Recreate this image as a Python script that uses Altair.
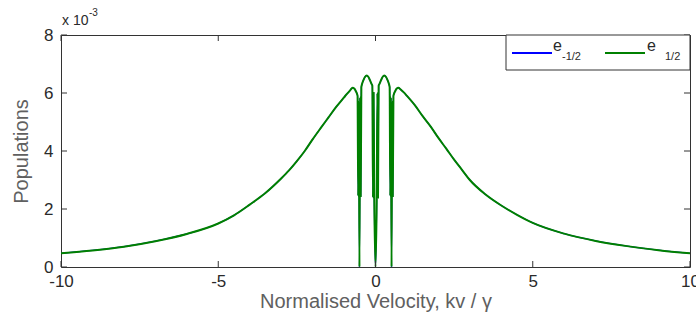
import altair as alt
import pandas as pd

# ---- data (populations in units of 1e-3) ----
velocity = [-10, -9, -8, -7, -6, -5, -4.5, -4, -3.5, -3, -2.75, -2.5, -2.25, -2, -1.75, -1.5, -1.25, -1.0, -0.9, -0.8, -0.73, -0.67, -0.62,
            -0.59, -0.57, -0.55, -0.53, -0.51, -0.49, -0.47, -0.45, -0.43,
            -0.38, -0.33, -0.28, -0.23, -0.18, -0.13,
            -0.1, -0.08, -0.06, -0.04, 0.0, 0.04, 0.06, 0.08, 0.1,
            0.13, 0.18, 0.23, 0.28, 0.33, 0.38,
            0.43, 0.45, 0.47, 0.49, 0.51, 0.53, 0.55, 0.57, 0.59,
            0.62, 0.67, 0.73, 0.8, 0.9, 1.0, 1.25, 1.5, 1.75, 2, 2.25, 2.5, 2.75, 3, 3.5, 4, 4.5, 5, 6, 7, 8, 9, 10]
pop_e_half = [0.47, 0.57, 0.70, 0.89, 1.14, 1.50, 1.78, 2.15, 2.55, 3.05, 3.33, 3.65, 4.00, 4.40, 4.78, 5.15, 5.52, 5.85, 5.98, 6.10, 6.18, 6.15, 6.05,
              5.98, 5.90, 2.45, 5.70, 0.0, 5.85, 2.45, 6.20, 6.30,
              6.45, 6.56, 6.60, 6.56, 6.45, 6.32,
              6.25, 2.40, 6.00, 2.50, 0.0, 2.50, 6.00, 2.40, 6.25,
              6.32, 6.45, 6.56, 6.60, 6.56, 6.45,
              6.30, 6.20, 2.45, 5.85, 0.0, 5.70, 2.45, 5.90, 5.98,
              6.05, 6.15, 6.18, 6.12, 6.02, 5.90, 5.58, 5.20, 4.85, 4.45, 4.08, 3.70, 3.35, 3.00, 2.50, 2.12, 1.80, 1.52, 1.15, 0.90, 0.72, 0.58, 0.47]
pop_e_minus_half = list(pop_e_half)  # the two populations coincide in the reference
series_names = ["e-1/2", "e1/2"]
series_colors = ["#0000ff", "#008000"]
x_ticks = [-10, -5, 0, 5, 10]
y_ticks = [0, 2, 4, 6, 8]
legend_base = ["e", "e"]
legend_sub = ["-1/2", "1/2"]
exponent_base = "x 10"
exponent_sup = "-3"
x_title = "Normalised Velocity, kv / \u03b3"
y_title = "Populations"

W, H = 629, 232
FONT = "Liberation Sans"
FRAME = "#333333"
LABEL = "#2a2a2a"
TITLE = "#606060"

rows = []
for name, vals in zip(series_names, [pop_e_minus_half, pop_e_half]):
    for i, (v, p) in enumerate(zip(velocity, vals)):
        rows.append({"velocity": v, "population": p, "series": name, "idx": i})
df = pd.DataFrame(rows)

xscale = alt.Scale(domain=[-10, 10], nice=False, zero=False)
yscale = alt.Scale(domain=[0, 8], nice=False)
cscale = alt.Scale(domain=series_names, range=series_colors)

x_axis = alt.Axis(values=x_ticks, tickSize=0, labelPadding=6, domain=False, grid=False,
                  labelExpr="'' + datum.value",
                  labelFontSize=17, labelColor=LABEL, labelFont=FONT,
                  titleFontSize=20, titleColor=TITLE, titleFont=FONT,
                  titleFontWeight="normal", titlePadding=2, labelFlush=False)
y_axis = alt.Axis(values=y_ticks, tickSize=0, labelPadding=8, domain=False, grid=False,
                  labelExpr="'' + datum.value",
                  labelFontSize=17, labelColor=LABEL, labelFont=FONT,
                  titleFontSize=20, titleColor=TITLE, titleFont=FONT,
                  titleFontWeight="normal", titlePadding=12, labelFlush=False)
x_enc = alt.X("velocity:Q", scale=xscale, title=x_title, axis=x_axis)
y_enc = alt.Y("population:Q", scale=yscale, title=y_title, axis=y_axis)

layers = []
for name, sw in zip(series_names, [1.2, 2]):
    layers.append(
        alt.Chart(df).transform_filter(alt.datum.series == name)
        .mark_line(strokeWidth=sw, interpolate="monotone", clip=True)
        .encode(x=x_enc, y=y_enc,
                color=alt.Color("series:N", scale=cscale, legend=None),
                order="idx:Q")
    )

xt = pd.DataFrame({"velocity": x_ticks})
yt = pd.DataFrame({"population": y_ticks})
tick_len = 6
layers.append(alt.Chart(xt).mark_rule(color=FRAME, strokeWidth=1).encode(
    x=x_enc, y=alt.value(H), y2=alt.value(H - tick_len)))
layers.append(alt.Chart(xt).mark_rule(color=FRAME, strokeWidth=1).encode(
    x=x_enc, y=alt.value(0), y2=alt.value(tick_len)))
layers.append(alt.Chart(yt).mark_rule(color=FRAME, strokeWidth=1).encode(
    y=y_enc, x=alt.value(0), x2=alt.value(tick_len)))
layers.append(alt.Chart(yt).mark_rule(color=FRAME, strokeWidth=1).encode(
    y=y_enc, x=alt.value(W - tick_len), x2=alt.value(W)))

one = alt.Data(values=[{"k": 1}])

# legend box
layers.append(alt.Chart(one).mark_rect(fill="white", stroke=FRAME, strokeWidth=1).encode(
    x=alt.value(445), x2=alt.value(W), y=alt.value(0), y2=alt.value(35)))
# legend samples
for col, x0 in zip(series_colors, [451, 544]):
    layers.append(alt.Chart(one).mark_rule(color=col, strokeWidth=2).encode(
        x=alt.value(x0), x2=alt.value(x0 + 40), y=alt.value(18)))
# legend labels
for base, sub, xb, xs in zip(legend_base, legend_sub, [492, 586], [501, 604]):
    layers.append(alt.Chart(one).mark_text(align="left", baseline="alphabetic", fontSize=16,
                                           font=FONT, color=LABEL).encode(
        x=alt.value(xb), y=alt.value(15.5), text=alt.value(base)))
    layers.append(alt.Chart(one).mark_text(align="left", baseline="alphabetic", fontSize=11,
                                           font=FONT, color=LABEL).encode(
        x=alt.value(xs), y=alt.value(24.5), text=alt.value(sub)))

# exponent label
layers.append(alt.Chart(one).mark_text(align="left", baseline="alphabetic", fontSize=14,
                                       font=FONT, color=LABEL).encode(
    x=alt.value(1), y=alt.value(-10), text=alt.value(exponent_base)))
layers.append(alt.Chart(one).mark_text(align="left", baseline="alphabetic", fontSize=10,
                                       font=FONT, color=LABEL).encode(
    x=alt.value(28), y=alt.value(-19), text=alt.value(exponent_sup)))

chart = alt.layer(*layers).properties(
    width=W, height=H,
    padding={"left": 61, "top": 35, "right": 6, "bottom": 57},
    autosize=alt.AutoSizeParams(type="none"),
    background="white",
).configure_view(stroke=FRAME, strokeWidth=1)

chart.save("out.html", embed_options={"renderer": "svg", "actions": False})
